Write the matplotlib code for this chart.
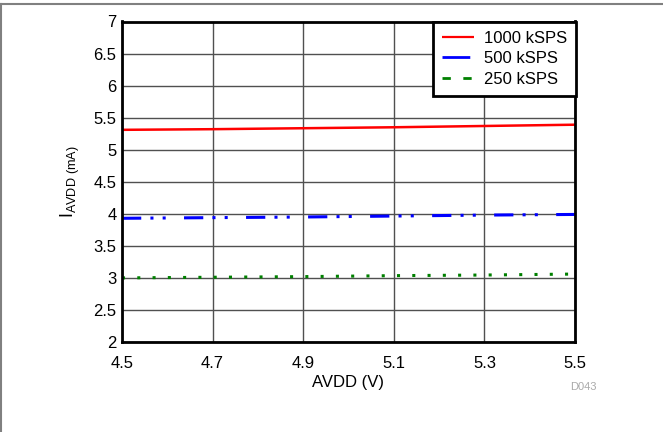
import matplotlib
matplotlib.use("Agg")
import matplotlib.pyplot as plt
from matplotlib.lines import Line2D

plt.rcParams['font.family'] = ['Liberation Sans', 'DejaVu Sans']

avdd = [4.5, 4.7, 4.9, 5.1, 5.3, 5.5]
i_1000 = [5.31, 5.32, 5.335, 5.35, 5.37, 5.39]
i_500 = [3.93, 3.94, 3.95, 3.965, 3.98, 3.99]
i_250 = [3.00, 3.01, 3.02, 3.035, 3.045, 3.06]
labels = ["1000 kSPS", "500 kSPS", "250 kSPS"]
xticks = [4.5, 4.7, 4.9, 5.1, 5.3, 5.5]
yticks = [2, 2.5, 3, 3.5, 4, 4.5, 5, 5.5, 6, 6.5, 7]

fig = plt.figure(figsize=(6.63, 4.32), dpi=100)
ax = fig.add_axes([122/663, 1-342/432, (575-122)/663, (342-21.5)/432])

ax.plot(avdd, i_1000, color='#ff0000', lw=1.8, solid_capstyle='butt')
ax.plot(avdd, i_500, color='#0000ff', lw=2.2,
        dashes=(6.3, 3, 1, 3, 1, 6), dash_capstyle='butt')
ax.plot(avdd, i_250, color='#008000', lw=2.2,
        dashes=(1, 4), dash_capstyle='butt')

ax.set_xlim(4.5, 5.5)
ax.set_ylim(2, 7)
ax.set_xticks(xticks)
ax.set_xticklabels([f"{v:g}" for v in xticks])
ax.set_yticks(yticks)
ax.set_yticklabels([f"{v:g}" for v in yticks])
ax.tick_params(length=0, labelsize=12)
ax.tick_params(axis='x', pad=10)
ax.tick_params(axis='y', pad=4)
ax.grid(True, color='#505050', lw=1)
ax.set_axisbelow(True)
for s in ax.spines.values():
    s.set_linewidth(2)
    s.set_color('black')

ax.set_xlabel("AVDD (V)", fontsize=12, labelpad=3)
ax.set_ylabel(r'$\mathregular{I_{AVDD\ (mA)}}$', fontsize=13, labelpad=8)

handles = [
    Line2D([], [], color='#ff0000', lw=1.6, solid_capstyle='butt'),
    Line2D([], [], color='#0000ff', lw=2.0, dashes=(10, 2.5, 3, 5), dash_capstyle='butt'),
    Line2D([], [], color='#008000', lw=2.0, dashes=(3, 4.5), dash_capstyle='butt'),
]
leg = ax.legend(handles, labels, loc='upper right', bbox_to_anchor=(1.002, 1.0), borderaxespad=0,
                fancybox=False, edgecolor='black', framealpha=1, fontsize=12,
                handlelength=1.95, labelspacing=0.33, borderpad=0.55, handletextpad=0.55)
leg.get_frame().set_linewidth(2)

fig.text(583/663, 1-387/432, "D043", color='#aaaaaa', fontsize=8, ha='center', va='center')

fig.add_artist(Line2D([0, 1], [1-3.5/432, 1-3.5/432], transform=fig.transFigure, color='#808080', lw=1.5))
fig.add_artist(Line2D([0.6/663, 0.6/663], [0, 1-3.5/432], transform=fig.transFigure, color='#808080', lw=1.5))

fig.savefig("out.png", dpi=100)
